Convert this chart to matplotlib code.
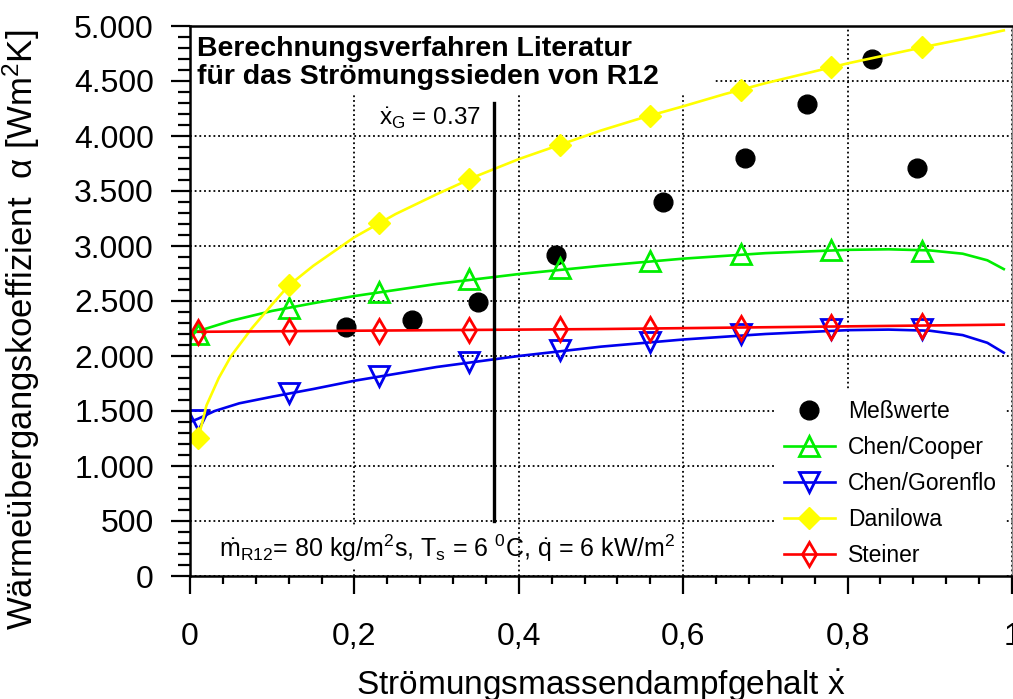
import matplotlib
matplotlib.use("Agg")
import matplotlib.pyplot as plt
from matplotlib.patches import Rectangle
from matplotlib.lines import Line2D
from matplotlib.ticker import MultipleLocator, FixedLocator, FixedFormatter

plt.rcParams['font.family'] = ['Liberation Sans', 'DejaVu Sans']
plt.rcParams['mathtext.fontset'] = 'custom'
plt.rcParams['mathtext.rm'] = 'Liberation Sans'
plt.rcParams['mathtext.it'] = 'Liberation Sans'
plt.rcParams['mathtext.bf'] = 'Liberation Sans:bold'
plt.rcParams['mathtext.default'] = 'regular'

# measured values
x_mess = [0.19, 0.27, 0.35, 0.445, 0.575, 0.675, 0.75, 0.83, 0.885]
alpha_mess = [2260, 2330, 2490, 2920, 3400, 3800, 4290, 4700, 3710]

# model values at the marker positions
x_calc = [0.01, 0.12, 0.23, 0.34, 0.45, 0.56, 0.67, 0.78, 0.89]
cooper = [2200, 2440, 2580, 2700, 2800, 2865, 2930, 2960, 2955]
gorenflo = [1420, 1660, 1820, 1950, 2055, 2130, 2200, 2245, 2245]
danilowa = [1255, 2645, 3210, 3610, 3920, 4185, 4420, 4630, 4810]
steiner = [2220, 2225, 2230, 2235, 2245, 2250, 2255, 2260, 2270]

# curves
x_cooper_fit = [0.0, 0.02, 0.05, 0.1, 0.15, 0.2, 0.3, 0.4, 0.5, 0.6, 0.7, 0.8, 0.85, 0.9, 0.94, 0.97, 0.99]
cooper_fit = [2200, 2250, 2320, 2410, 2480, 2545, 2655, 2745, 2820, 2885, 2935, 2965, 2970, 2960, 2930, 2870, 2790]
x_gorenflo_fit = [0.0, 0.01, 0.03, 0.06, 0.1, 0.15, 0.2, 0.3, 0.4, 0.5, 0.6, 0.7, 0.8, 0.85, 0.9, 0.94, 0.97, 0.99]
gorenflo_fit = [1400, 1430, 1500, 1570, 1630, 1700, 1775, 1900, 2000, 2085, 2150, 2200, 2235, 2240, 2230, 2190, 2120, 2030]
x_danilowa_fit = [0.01, 0.02, 0.035, 0.05, 0.075, 0.1, 0.12, 0.15, 0.2, 0.25, 0.3, 0.35, 0.4, 0.45, 0.5,
                  0.55, 0.6, 0.65, 0.7, 0.75, 0.8, 0.85, 0.9, 0.95, 0.99]
danilowa_fit = [1250, 1550, 1800, 2000, 2250, 2470, 2640, 2820, 3080, 3290, 3470, 3640, 3790, 3920, 4050,
                4165, 4270, 4380, 4480, 4570, 4660, 4740, 4820, 4895, 4960]
x_steiner_fit = [0.01, 0.5, 0.99]
steiner_fit = [2220, 2245, 2285]

x_ticks = [0, 0.2, 0.4, 0.6, 0.8, 1.0]
x_ticklabels = ['0', '0,2', '0,4', '0,6', '0,8', '1']
y_ticks = [0, 500, 1000, 1500, 2000, 2500, 3000, 3500, 4000, 4500, 5000]
y_ticklabels = ['0', '500', '1.000', '1.500', '2.000', '2.500', '3.000', '3.500', '4.000', '4.500', '5.000']

x_G = 0.37

fig = plt.figure(figsize=(10.13, 6.99), dpi=100)
ax = fig.add_axes([190 / 1013, 123 / 699, 822 / 1013, 550 / 699])
ax.set_xlim(0, 1)
ax.set_ylim(0, 5000)

ax.grid(True, color='black', linestyle=(0, (1, 1.6)), linewidth=1.3)

lw = 1.9
ax.plot(x_mess, alpha_mess, 'o', color='black', markersize=13.5, zorder=3)
ax.plot(x_cooper_fit, cooper_fit, color='#00ee00', lw=lw, zorder=4)
ax.plot(x_calc, cooper, '^', color='#00ee00', mfc='none', mew=2, markersize=15, zorder=4)
ax.plot(x_gorenflo_fit, gorenflo_fit, color='#0000ee', lw=lw, zorder=5)
ax.plot(x_calc, gorenflo, 'v', color='#0000ee', mfc='none', mew=2, markersize=15, zorder=5)
ax.plot(x_danilowa_fit, danilowa_fit, color='#ffff00', lw=lw, zorder=6)
ax.plot(x_calc, danilowa, 'D', color='#ffff00', markersize=11, zorder=6)
ax.plot(x_steiner_fit, steiner_fit, color='#ff0000', lw=lw, zorder=7)
ax.plot(x_calc, steiner, 'd', color='#ff0000', mfc='none', mew=2, markersize=12, zorder=7)

ax.plot([x_G, x_G], [500, 4300], color='black', lw=2.4, zorder=8)
ax.text(x_G - 0.016, 4160, r'$\dot{\mathrm{x}}_\mathrm{G}$ = 0.37', fontsize=17.5, ha='right', va='center', zorder=9)

# white areas behind the text boxes
ax.add_patch(Rectangle((0, 0.875), 0.636, 0.125, transform=ax.transAxes, facecolor='white',
                       edgecolor='none', zorder=1.8))
ax.add_patch(Rectangle((0, 0.017), 0.38, 0.075, transform=ax.transAxes, facecolor='white',
                       edgecolor='none', zorder=1.8))

ax.text(0.0085, 0.982, 'Berechnungsverfahren Literatur\nfür das Strömungssieden von R12',
        transform=ax.transAxes, fontsize=20.5, fontweight='bold', va='top', ha='left',
        linespacing=1.12, zorder=9)
ax.text(0.035, 0.05, r'$\dot{\mathrm{m}}_\mathrm{R12}$= 80 kg/m$^2$s, T$_\mathrm{s}$ = 6 $^0$C, $\dot{\mathrm{q}}$ = 6 kW/m$^2$',
        transform=ax.transAxes, fontsize=18, va='center', ha='left', zorder=9)

handles = [
    Line2D([], [], marker='o', color='black', linestyle='none', markersize=13.5),
    Line2D([], [], marker='^', color='#00ee00', mfc='none', mew=2, markersize=15, lw=lw),
    Line2D([], [], marker='v', color='#0000ee', mfc='none', mew=2, markersize=15, lw=lw),
    Line2D([], [], marker='D', color='#ffff00', markersize=11, lw=lw),
    Line2D([], [], marker='d', color='#ff0000', mfc='none', mew=2, markersize=12, lw=lw),
]
labels = ['Meßwerte', 'Chen/Cooper', 'Chen/Gorenflo', 'Danilowa', 'Steiner']
leg = ax.legend(handles, labels, loc='upper left', bbox_to_anchor=(0.7116, 0.336), borderaxespad=0,
                fontsize=16.5, frameon=True, facecolor='white', edgecolor='none', framealpha=1,
                fancybox=False, handlelength=2.2, handletextpad=0.6, labelspacing=0.56,
                borderpad=0.4)
leg.set_zorder(10)

ax.xaxis.set_major_locator(FixedLocator(x_ticks))
ax.xaxis.set_major_formatter(FixedFormatter(x_ticklabels))
ax.xaxis.set_minor_locator(MultipleLocator(0.04))
ax.yaxis.set_major_locator(FixedLocator(y_ticks))
ax.yaxis.set_major_formatter(FixedFormatter(y_ticklabels))
ax.yaxis.set_minor_locator(MultipleLocator(100))

ax.tick_params(axis='x', which='major', direction='out', length=13, width=1.6, labelsize=23, pad=20)
ax.tick_params(axis='x', which='minor', direction='out', length=6, width=1.6)
ax.tick_params(axis='y', which='major', direction='out', length=14, width=1.6, labelsize=23, pad=12)
ax.tick_params(axis='y', which='minor', direction='out', length=8.5, width=1.6)

for side in ['left', 'bottom', 'top']:
    ax.spines[side].set_linewidth(1.8)
    ax.spines[side].set_zorder(11)
ax.spines['right'].set_linewidth(1.0)
ax.spines['right'].set_color('#888888')
ax.spines['right'].set_zorder(11)

ax.set_xlabel(r'Strömungsmassendampfgehalt $\dot{\mathrm{x}}$', fontsize=24)
ax.set_ylabel('Wärmeübergangskoeffizient  α [Wm$^2$K]', fontsize=25)
ax.xaxis.set_label_coords(0.5, -0.168)
ax.yaxis.set_label_coords(-0.18, 0.448)

fig.savefig('out.png', dpi=100)
